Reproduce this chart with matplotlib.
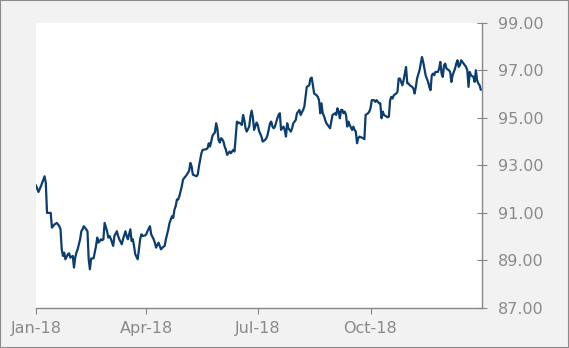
import matplotlib
matplotlib.use('Agg')
import matplotlib.pyplot as plt
import matplotlib.dates as mdates
from matplotlib.patches import Rectangle
from matplotlib.ticker import FormatStrFormatter
import numpy as np
import pandas as pd

# days since 2018-01-01 and the value
days = [0, 2, 4, 6, 7, 8, 9, 12, 13, 15, 17, 19, 20, 21, 22, 23, 24, 26, 27, 28,
        30, 31, 32, 33, 34, 36, 37, 38, 39, 41, 42, 43, 44, 45, 47, 49, 50, 51, 53, 54,
        55, 56, 58, 59, 60, 61, 63, 64, 66, 67, 68, 70, 71, 73, 74, 75, 77, 78, 79, 80,
        81, 83, 84, 85, 86, 87, 89, 90, 91, 93, 94, 96, 97, 98, 100, 101, 102, 104, 105, 106,
        108, 109, 111, 112, 113, 114, 115, 116, 117, 119, 120, 121, 123, 124, 125, 126, 127, 128, 131, 132,
        133, 134, 135, 136, 139, 140, 141, 142, 143, 144, 145, 146, 147, 148, 149, 150, 151, 152, 153, 154,
        155, 156, 157, 158, 159, 161, 162, 163, 164, 165, 166, 168, 169, 170, 171, 172, 174, 175, 176, 177,
        178, 180, 181, 182, 184, 185, 187, 188, 189, 191, 192, 193, 194, 195, 197, 198, 199, 200, 201, 202,
        203, 204, 205, 206, 208, 209, 210, 212, 213, 214, 215, 216, 218, 219, 220, 221, 222, 223, 224, 225,
        226, 227, 229, 230, 231, 232, 233, 234, 235, 236, 237, 239, 240, 241, 242, 244, 245, 246, 247, 248,
        249, 250, 251, 252, 253, 254, 255, 256, 258, 259, 260, 261, 262, 263, 264, 267, 268, 269, 271, 272,
        273, 274, 276, 277, 278, 280, 281, 282, 283, 284, 286, 287, 288, 289, 290, 291, 292, 294, 295, 296,
        297, 298, 299, 300, 301, 302, 303, 304, 305, 307, 308, 309, 310, 311, 313, 314, 315, 316, 317, 318,
        320, 321, 322, 323, 324, 325, 326, 328, 329, 330, 331, 332, 333, 334, 335, 337, 338, 339, 340, 342,
        343, 344, 345, 346, 347, 348, 350, 351, 352, 353, 354, 355, 357, 358, 359, 360, 361, 362, 363]
values = [92.15, 91.88, 92.12, 92.40, 92.54, 92.26, 91.00, 91.00, 90.38, 90.51, 90.58, 90.44, 90.31, 89.47, 89.19, 89.33, 89.05, 89.26, 89.30, 89.12,
          89.19, 88.70, 89.12, 89.33, 89.47, 89.89, 90.23, 90.31, 90.44, 90.31, 90.23, 89.05, 88.63, 89.08, 89.09, 89.61, 89.96, 89.75, 89.89, 89.85,
          89.89, 90.58, 90.23, 89.96, 90.03, 89.92, 89.61, 90.03, 90.23, 90.03, 89.89, 89.68, 89.89, 90.23, 90.03, 89.89, 90.31, 89.82, 89.89, 89.61,
          89.26, 89.05, 89.47, 89.89, 90.10, 90.03, 90.05, 90.10, 90.23, 90.44, 90.10, 89.89, 89.75, 89.54, 89.75, 89.61, 89.47, 89.58, 89.61, 89.89,
          90.31, 90.58, 90.86, 90.79, 91.14, 91.28, 91.56, 91.56, 91.70, 92.12, 92.40, 92.47, 92.60, 92.68, 92.78, 93.10, 92.96, 92.61, 92.54, 92.61,
          92.96, 93.23, 93.51, 93.65, 93.68, 93.72, 93.93, 93.79, 94.00, 94.24, 94.32, 94.38, 94.77, 94.56, 94.07, 93.96, 94.14, 94.10, 94.00, 93.79,
          93.65, 93.44, 93.51, 93.58, 93.51, 93.65, 93.58, 94.21, 94.84, 94.77, 94.80, 94.70, 95.12, 94.91, 94.56, 94.42, 94.63, 95.05, 95.30, 95.00,
          94.49, 94.80, 94.70, 94.45, 94.21, 94.00, 94.07, 94.14, 94.28, 94.77, 94.84, 94.63, 94.56, 94.63, 94.98, 95.12, 95.19, 94.49, 94.56, 94.63,
          94.49, 94.21, 94.77, 94.56, 94.42, 94.56, 94.77, 94.91, 95.19, 95.26, 95.33, 95.12, 95.33, 95.47, 95.88, 96.30, 96.33, 96.37, 96.65, 96.69,
          96.37, 96.02, 95.95, 95.88, 95.74, 95.19, 95.61, 95.19, 95.08, 94.91, 94.77, 94.63, 94.56, 94.84, 95.12, 95.19, 95.12, 95.40, 95.26, 94.98,
          95.33, 95.33, 95.19, 95.26, 95.12, 94.63, 94.84, 94.70, 94.49, 94.63, 94.49, 94.42, 93.93, 94.14, 94.21, 94.14, 94.10, 95.12, 95.19, 95.26,
          95.40, 95.74, 95.74, 95.67, 95.74, 95.61, 95.61, 94.98, 95.26, 95.12, 95.05, 95.02, 95.05, 95.74, 95.88, 95.81, 95.95, 96.02, 96.09, 96.65,
          96.65, 96.51, 96.37, 96.58, 96.86, 97.14, 96.45, 96.44, 96.37, 96.30, 96.23, 96.02, 96.30, 96.65, 97.00, 97.28, 97.56, 97.35, 97.07, 96.79,
          96.51, 96.30, 96.16, 96.79, 96.86, 96.79, 96.93, 96.93, 97.07, 97.35, 96.86, 96.72, 97.21, 97.28, 97.07, 97.00, 96.93, 96.51, 96.79, 97.07,
          97.28, 97.42, 97.14, 97.21, 97.42, 97.35, 97.21, 97.14, 97.00, 96.30, 96.93, 96.79, 96.72, 96.51, 97.00, 96.58, 96.44, 96.37, 96.19]

y_ticks = [87, 89, 91, 93, 95, 97, 99]
x_ticks = ['2018-01-01', '2018-04-01', '2018-07-01', '2018-10-01']

dates = pd.Timestamp('2018-01-01') + pd.to_timedelta(days, unit='D')

bg = '#f2f2f2'
grey = '#868686'
label_grey = '#8a8a8a'

fig = plt.figure(figsize=(5.69, 3.48), dpi=100)
fig.patch.set_facecolor(bg)
ax = fig.add_axes([36 / 569, 40 / 348, 446 / 569, 285.3 / 348])
ax.set_facecolor('white')

ax.plot(dates, values, color='#0b3d6e', linewidth=1.6, solid_joinstyle='round')

ax.set_xlim(pd.Timestamp('2018-01-01'), pd.Timestamp('2018-12-31'))
ax.set_ylim(87, 99)

ax.set_xticks(pd.to_datetime(x_ticks))
ax.xaxis.set_major_formatter(mdates.DateFormatter('%b-%y'))
ax.set_yticks(y_ticks)
ax.yaxis.set_major_formatter(FormatStrFormatter('%.2f'))
ax.yaxis.tick_right()

for side in ['left', 'top']:
    ax.spines[side].set_visible(False)
for side in ['right', 'bottom']:
    ax.spines[side].set_color(grey)
    ax.spines[side].set_linewidth(1)

ax.tick_params(axis='y', direction='inout', length=7.5, width=0.8, color=grey,
               labelcolor=label_grey, labelsize=11.5, pad=8)
ax.tick_params(axis='x', direction='out', length=4.5, width=0.8, color=grey,
               labelcolor=label_grey, labelsize=11.5, pad=5)

fig.patches.append(Rectangle((0, 0), 1, 1, transform=fig.transFigure, fill=False,
                             edgecolor='#8c8c8c', linewidth=1.5))

fig.savefig('out.png', dpi=100, facecolor=bg)
plt.close(fig)
